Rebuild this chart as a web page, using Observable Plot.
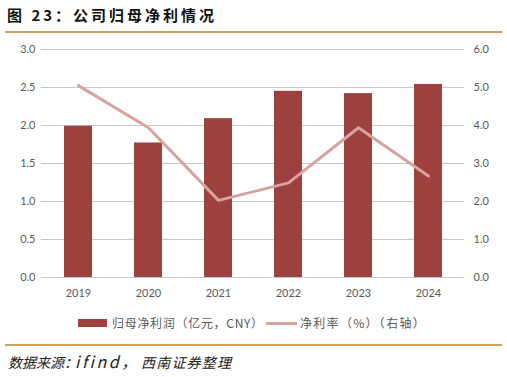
<!DOCTYPE html>
<html><head><meta charset="utf-8">
<script src="https://cdn.jsdelivr.net/npm/d3@7"></script>
<script src="https://cdn.jsdelivr.net/npm/@observablehq/plot@0.6"></script>
<style>
body{margin:0;width:507px;height:377px;background:#fff;font-family:"Noto Sans CJK SC",sans-serif;overflow:hidden;position:relative}
#title{position:absolute;left:7px;top:4px;font-size:15px;font-weight:bold;letter-spacing:3px;color:#111;white-space:nowrap}
.rule{position:absolute;left:5px;width:497px;height:2px;background:#D0A25F}
#chart{position:absolute;left:0;top:34px}
.lg{position:absolute;font-size:12px;color:#595959;white-space:nowrap;line-height:16px;letter-spacing:0.7px}
.src{position:absolute;top:352px;font-style:italic;font-size:14px;color:#222;white-space:nowrap;line-height:20px}
</style></head>
<body>
<div id="title">图 23：公司归母净利情况</div>
<div class="rule" style="top:31px"></div>
<div id="chart"></div>
<div class="lg" style="left:78px;top:319px;width:29px;height:8px;background:#9E403D"></div>
<div class="lg" style="left:112px;top:315px">归母净利润（亿元，CNY）</div>
<div class="lg" style="left:266px;top:322px;width:31px;height:3px;background:#D6A3A1"></div>
<div class="lg" style="left:300px;top:315px;letter-spacing:1.3px">净利率（%）（右轴）</div>
<div class="rule" style="top:344px"></div>
<div class="src" style="left:8px;letter-spacing:0px">数据来源：</div>
<div class="src" style="left:75px;font-size:16px;letter-spacing:2.5px;top:351px">ifind，</div>
<div class="src" style="left:141px;letter-spacing:1.2px">西南证券整理</div>
<script>
const years = ["2019", "2020", "2021", "2022", "2023", "2024"];
const profit = [1.99, 1.77, 2.09, 2.45, 2.42, 2.54];
const margin = [5.05, 3.94, 2.03, 2.49, 3.94, 2.67];
const leftTicks = [0, 0.5, 1, 1.5, 2, 2.5, 3];
const rightTicks = [0, 1, 2, 3, 4, 5, 6];
const data = years.map((y, i) => ({year: y, profit: profit[i], margin: margin[i]}));
const chart = Plot.plot({
  width: 507, height: 271,
  marginTop: 15, marginBottom: 28, marginLeft: 41, marginRight: 43,
  x: {domain: years, paddingInner: 0.6, paddingOuter: 0.3, axis: null},
  y: {domain: [0, 3], axis: null},
  style: {fontFamily: "Lato, sans-serif", fontSize: "11px", color: "#595959", background: "transparent"},
  marks: [
    Plot.gridY(leftTicks, {stroke: "#c8c8c8", strokeOpacity: 1}),
    Plot.axisX({tickSize: 0, tickPadding: 12, label: null}),
    Plot.axisY(leftTicks, {tickSize: 0, tickPadding: 6, tickFormat: d => d.toFixed(1), label: null}),
    Plot.axisY(rightTicks.map(d => d / 2), {anchor: "right", tickSize: 0, tickPadding: 9, tickFormat: d => (d * 2).toFixed(1), label: null}),
    Plot.barY(data, {x: "year", y: "profit", fill: "#9E403D"}),
    Plot.line(data, {x: "year", y: d => d.margin / 2, stroke: "#D6A3A1", strokeWidth: 3})
  ]
});
document.getElementById("chart").append(chart);
</script>
</body></html>
